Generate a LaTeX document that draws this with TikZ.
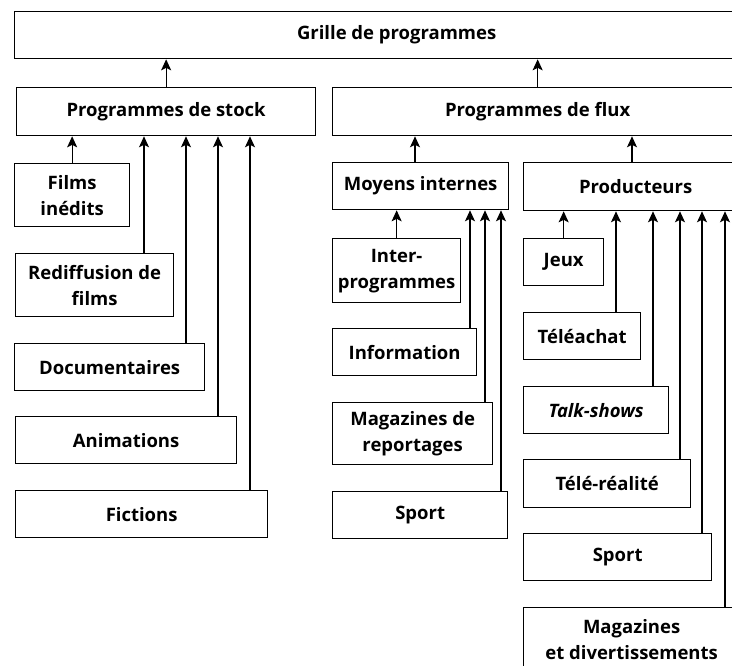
\documentclass[tikz,border=0pt]{standalone}
\usepackage{fontspec}
\setmainfont{Open Sans}
\usetikzlibrary{arrows.meta}

\begin{document}
\begin{tikzpicture}[x=1pt, y=-1pt,
        boite/.style={rectangle, draw, line width=1.3pt, anchor=north west, inner sep=0pt, align=center,
            font=\fontsize{18.5}{26}\selectfont\bfseries},
        fleche/.style={-{Stealth[length=11pt, width=10pt, inset=2.5pt]}, line width=1.3pt}
    ]
        \useasboundingbox (0,0) rectangle (732,665);
        \clip (0,0) rectangle (732,665);

        % Grille
        \node[boite, minimum width=764pt, minimum height=47pt] (grille) at (14,11) {Grille de programmes};

        % Stock et flux
        \node[boite, minimum width=299pt, minimum height=48pt] (stock) at (16,87) {Programmes de stock};
        \node[boite, minimum width=410pt, minimum height=48pt] (flux) at (332,87) {Programmes de flux};

        % Programmes de stock
        \node[boite, minimum width=115pt, minimum height=63pt] (films) at (14,163) {Films\\inédits};
        \node[boite, minimum width=158pt, minimum height=63pt] (rediff) at (15,253) {Rediffusion de\\films};
        \node[boite, minimum width=190pt, minimum height=47pt] (docu) at (14,343) {Documentaires};
        \node[boite, minimum width=221pt, minimum height=47pt] (anim) at (15,416) {Animations};
        \node[boite, minimum width=252pt, minimum height=47pt] (fict) at (15,490) {Fictions};

        % Moyens internes
        \node[boite, minimum width=176pt, minimum height=47pt] (moyens) at (332,162) {Moyens internes};
        \node[boite, minimum width=128pt, minimum height=64pt] (inter) at (332,238) {Inter-\\programmes};
        \node[boite, minimum width=144pt, minimum height=47pt] (info) at (332,328) {Information};
        \node[boite, minimum width=160pt, minimum height=62pt] (magrep) at (332,402) {Magazines de\\reportages};
        \node[boite, minimum width=175pt, minimum height=47pt] (sportmi) at (332,491) {Sport};

        % Producteurs
        \node[boite, minimum width=224pt, minimum height=48pt] (prod) at (523,162) {Producteurs};
        \node[boite, minimum width=80pt, minimum height=47pt] (jeux) at (523,238) {Jeux};
        \node[boite, minimum width=117pt, minimum height=47pt] (achat) at (523,312) {Téléachat};
        \node[boite, minimum width=145pt, minimum height=47pt] (talk) at (523,386) {\textit{Talk-shows}};
        \node[boite, minimum width=167pt, minimum height=48pt] (realite) at (523,459) {Télé-réalité};
        \node[boite, minimum width=188pt, minimum height=47pt] (sportpr) at (523,533) {Sport};
        \node[boite, minimum width=216pt, minimum height=63pt] (magdiv) at (523,607) {Magazines\\et divertissements};

        % Connexions
        \draw[fleche] (stock.north) -- (stock.north |- grille.south);
        \draw[fleche] (flux.north) -- (flux.north |- grille.south);

        \draw[fleche] (films.north) -- (films.north |- stock.south);
        \foreach \n/\x in {rediff/144, docu/186, anim/218, fict/250}
            \draw[fleche] (\n.north -| \x,0) -- (\x,0 |- stock.south);

        \draw[fleche] (moyens.north -| 415,0) -- (415,0 |- flux.south);
        \draw[fleche] (inter.north) -- (inter.north |- moyens.south);
        \foreach \n/\x in {info/470, magrep/485, sportmi/501}
            \draw[fleche] (\n.north -| \x,0) -- (\x,0 |- moyens.south);

        \draw[fleche] (prod.north -| 632,0) -- (632,0 |- flux.south);
        \draw[fleche] (jeux.north) -- (jeux.north |- prod.south);
        \foreach \n/\x in {achat/616, talk/653, realite/680, sportpr/702, magdiv/725}
            \draw[fleche] (\n.north -| \x,0) -- (\x,0 |- prod.south);
    \end{tikzpicture}
\end{document}
